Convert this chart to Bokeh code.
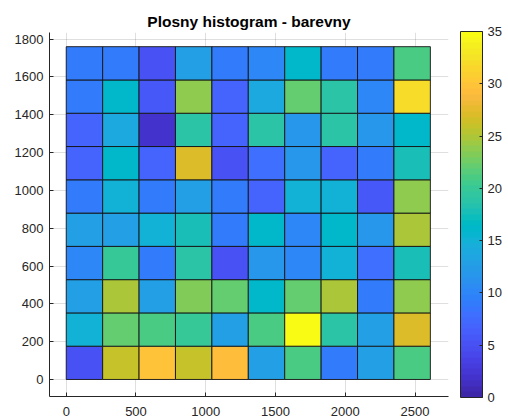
from bokeh.plotting import figure
from bokeh.models import LinearColorMapper, ColorBar, FixedTicker, ColumnDataSource, Range1d
from bokeh.embed import file_html
from bokeh.resources import INLINE

# ---- data ----
title_text = "Plosny histogram - barevny"
x_edges = [0, 261, 522, 783, 1044, 1305, 1566, 1827, 2088, 2349, 2610]
y_edges = [0, 176, 352, 528, 704, 880, 1056, 1232, 1408, 1584, 1760]
# counts, one row per y bin (bottom row first), one value per x bin
counts = [
    [5, 26, 30, 26, 29, 13, 21, 9, 13, 21],
    [15, 22, 21, 20, 13, 21, 35, 19, 13, 27],
    [13, 25, 13, 23, 22, 16, 22, 25, 9, 24],
    [10, 20, 9, 19, 5, 12, 10, 15, 8, 18],
    [13, 13, 15, 18, 9, 16, 10, 16, 12, 25],
    [9, 15, 9, 13, 9, 7, 15, 15, 6, 24],
    [7, 16, 7, 27, 5, 8, 12, 7, 9, 18],
    [7, 14, 2, 19, 7, 19, 12, 19, 12, 16],
    [9, 16, 6, 24, 7, 14, 22, 19, 10, 32],
    [9, 9, 5, 13, 9, 10, 16, 9, 9, 21],
]
x_ticks = [0, 500, 1000, 1500, 2000, 2500]
y_ticks = [0, 200, 400, 600, 800, 1000, 1200, 1400, 1600, 1800]
cb_ticks = [0, 5, 10, 15, 20, 25, 30, 35]
c_low, c_high = 0, 35

parula = [
    [0.2422, 0.1504, 0.6603], [0.2504, 0.1650, 0.7076], [0.2578, 0.1818, 0.7511], [0.2647, 0.1978, 0.7952],
    [0.2706, 0.2147, 0.8364], [0.2751, 0.2342, 0.8710], [0.2783, 0.2559, 0.8991], [0.2803, 0.2782, 0.9221],
    [0.2813, 0.3006, 0.9414], [0.2810, 0.3228, 0.9579], [0.2795, 0.3447, 0.9717], [0.2760, 0.3667, 0.9829],
    [0.2699, 0.3892, 0.9906], [0.2602, 0.4123, 0.9952], [0.2440, 0.4358, 0.9988], [0.2206, 0.4603, 0.9973],
    [0.1963, 0.4847, 0.9892], [0.1834, 0.5074, 0.9798], [0.1786, 0.5289, 0.9682], [0.1764, 0.5499, 0.9520],
    [0.1687, 0.5703, 0.9359], [0.1540, 0.5902, 0.9218], [0.1460, 0.6091, 0.9079], [0.1380, 0.6276, 0.8973],
    [0.1248, 0.6459, 0.8883], [0.1113, 0.6635, 0.8763], [0.0952, 0.6798, 0.8598], [0.0689, 0.6948, 0.8394],
    [0.0297, 0.7082, 0.8163], [0.0036, 0.7203, 0.7917], [0.0067, 0.7312, 0.7660], [0.0433, 0.7411, 0.7394],
    [0.0964, 0.7500, 0.7120], [0.1408, 0.7584, 0.6842], [0.1717, 0.7670, 0.6554], [0.1938, 0.7758, 0.6251],
    [0.2161, 0.7843, 0.5923], [0.2470, 0.7918, 0.5567], [0.2906, 0.7973, 0.5188], [0.3406, 0.8008, 0.4789],
    [0.3909, 0.8029, 0.4354], [0.4456, 0.8024, 0.3909], [0.5044, 0.7993, 0.3480], [0.5616, 0.7942, 0.3045],
    [0.6174, 0.7876, 0.2612], [0.6720, 0.7793, 0.2227], [0.7242, 0.7698, 0.1910], [0.7738, 0.7598, 0.1646],
    [0.8203, 0.7498, 0.1535], [0.8634, 0.7406, 0.1596], [0.9035, 0.7330, 0.1774], [0.9393, 0.7288, 0.2100],
    [0.9728, 0.7298, 0.2394], [0.9956, 0.7434, 0.2371], [0.9970, 0.7659, 0.2199], [0.9952, 0.7893, 0.2028],
    [0.9892, 0.8136, 0.1885], [0.9786, 0.8386, 0.1766], [0.9676, 0.8639, 0.1643], [0.9610, 0.8890, 0.1537],
    [0.9597, 0.9135, 0.1423], [0.9628, 0.9373, 0.1265], [0.9691, 0.9606, 0.1064], [0.9769, 0.9839, 0.0805],
]
palette = ["#%02x%02x%02x" % tuple(int(round(c * 255)) for c in rgb) for rgb in parula]

# ---- build source ----
left, right, bottom, top, val = [], [], [], [], []
for j, row in enumerate(counts):
    for i, v in enumerate(row):
        left.append(x_edges[i]); right.append(x_edges[i + 1])
        bottom.append(y_edges[j]); top.append(y_edges[j + 1])
        val.append(v)
src = ColumnDataSource(dict(left=left, right=right, bottom=bottom, top=top, val=val))

mapper = LinearColorMapper(palette=palette, low=c_low, high=c_high)

FONT = "Liberation Sans"
INK = "#262626"

p = figure(frame_width=399, frame_height=364,
           x_range=Range1d(-120, 2740), y_range=Range1d(-90, 1835),
           output_backend="svg", toolbar_location=None,
           min_border_left=49, min_border_right=51, min_border_top=32, min_border_bottom=19)
p.title.text = title_text
p.title.align = "center"
p.title.text_font = FONT
p.title.text_font_size = "15.5px"
p.title.text_font_style = "bold"
p.title.text_color = "#000000"
p.title.standoff = 5

p.quad(left="left", right="right", bottom="bottom", top="top", source=src,
       fill_color={"field": "val", "transform": mapper},
       line_color="#141414", line_width=1, line_alpha=0.9)

p.outline_line_color = None
p.background_fill_color = "white"
p.border_fill_color = "white"
p.xaxis.ticker = FixedTicker(ticks=x_ticks)
p.yaxis.ticker = FixedTicker(ticks=y_ticks)
for ax in (p.xaxis, p.yaxis):
    ax.axis_line_color = INK
    ax.major_tick_line_color = INK
    ax.major_tick_in = 4
    ax.major_tick_out = 0
    ax.minor_tick_line_color = None
    ax.major_label_text_font = FONT
    ax.major_label_text_font_size = "13px"
    ax.major_label_text_color = INK
p.yaxis.major_label_standoff = 6
p.xaxis.major_label_standoff = 10
p.grid.grid_line_color = INK
p.grid.grid_line_alpha = 0.15

cb = ColorBar(color_mapper=mapper, ticker=FixedTicker(ticks=cb_ticks),
              width=22, height=366, location=(12, -1), margin=0, padding=0,
              label_standoff=5, major_tick_in=3, major_tick_out=0,
              major_tick_line_color=INK, minor_tick_line_color=None,
              major_label_text_font=FONT, major_label_text_font_size="13px",
              major_label_text_color=INK,
              bar_line_color=INK, bar_line_width=1,
              border_line_color=None, background_fill_color=None)
p.add_layout(cb, "right")

open("out.html", "w").write(file_html(p, INLINE))
